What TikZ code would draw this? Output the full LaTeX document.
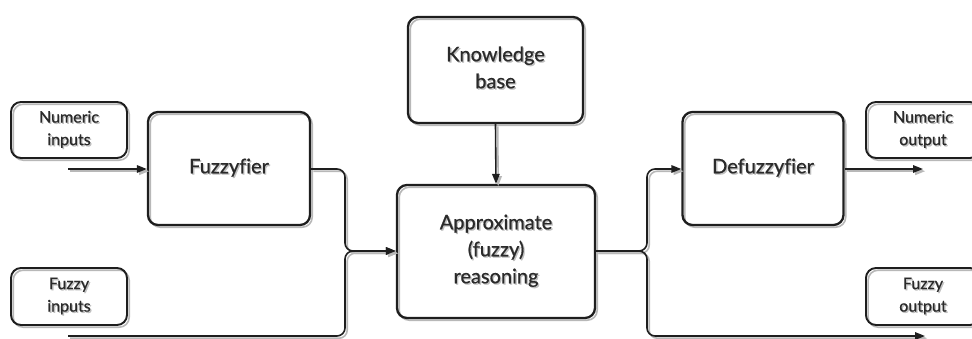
\documentclass[tikz,border=0pt]{standalone}
\usepackage{fontspec}
\setmainfont{Lato}[Ligatures=NoCommon, UprightFeatures={FakeBold=0.7}]
\usetikzlibrary{arrows.meta}
\definecolor{ink}{HTML}{1E1E1E}
\definecolor{txt}{HTML}{2A2A2A}
% label text with a soft offset shadow
\newcommand\shd[1]{\leavevmode
  \rlap{\kern1.3pt\raisebox{-1.3pt}{\color{black!25}\begin{tabular}{@{}c@{}}#1\end{tabular}}}%
  \begin{tabular}{@{}c@{}}#1\end{tabular}}
\tikzset{
  ghost/.style={preaction={draw=black!28, line width=1.6pt,
    transform canvas={xshift=2.2pt,yshift=-2.2pt}}},
  blk/.style={draw=ink, line width=2.3pt, rounded corners=10pt,
    align=center, text=txt, inner sep=0pt, ghost},
  bigblk/.style={blk, font=\fontsize{20}{27}\selectfont},
  tag/.style={blk, line width=1.9pt, font=\fontsize{16}{22.5}\selectfont},
  link/.style={draw=ink, line width=1.6pt, rounded corners=8pt, ghost},
  flow/.style={link, -{Triangle[length=10pt,width=7.5pt]}},
}
\begin{document}
\begin{tikzpicture}[x=1pt,y=-1pt]
\useasboundingbox (0,0) rectangle (972,338);

% input labels
\node[tag, minimum width=116pt, minimum height=56pt] (numin) at (69,130) {\shd{Numeric\\inputs}};
\node[tag, minimum width=116pt, minimum height=57pt] (fuzin) at (69,296.5) {\shd{Fuzzy\\inputs}};

% processing blocks
\node[bigblk, minimum width=162pt, minimum height=113pt] (fuzz) at (229,168.5) {\shd{Fuzzyfier}};
\node[bigblk, minimum width=175pt, minimum height=106pt] (kb) at (495.5,70) {\shd{Knowledge\\base}};
\node[bigblk, minimum width=198pt, minimum height=133pt] (reas) at (496,251.5) {\shd{Approximate\\(fuzzy)\\reasoning}};
\node[bigblk, minimum width=161pt, minimum height=113pt] (defuzz) at (763,168.5) {\shd{Defuzzyfier}};

% output labels, running off the right edge
\node[tag, minimum width=114pt, minimum height=56pt, anchor=west] (numout) at (865,130) {\shd{Numeric\\output}};
\node[tag, minimum width=114pt, minimum height=57pt, anchor=west] (fuzout) at (865,296.5) {\shd{Fuzzy\\output}};

% loose ends of the signal lines
\coordinate (nsrc) at (68,169);
\coordinate (fsrc) at (68,336);
\coordinate (split) at (647,251);
\coordinate (nout) at (923,169);
\coordinate (fout) at (925,336);

% connectors
\draw[flow] (nsrc) -- (fuzz.west |- nsrc);
\draw[flow] (fuzz.east |- nsrc) -- (345,169) -- (345,251) -- (reas.west |- split);
\draw[flow] (fsrc) -- (345,336) -- (345,251) -- (reas.west |- split);
\draw[flow] (kb.south) -- (reas.north);
\draw[flow] (reas.east |- split) -- (split) -- (647,169) -- (defuzz.west |- nsrc);
\draw[flow] (reas.east |- split) -- (split) -- (647,336) -- (fout);
\draw[flow] (defuzz.east |- nsrc) -- (nout);
\end{tikzpicture}
\end{document}
